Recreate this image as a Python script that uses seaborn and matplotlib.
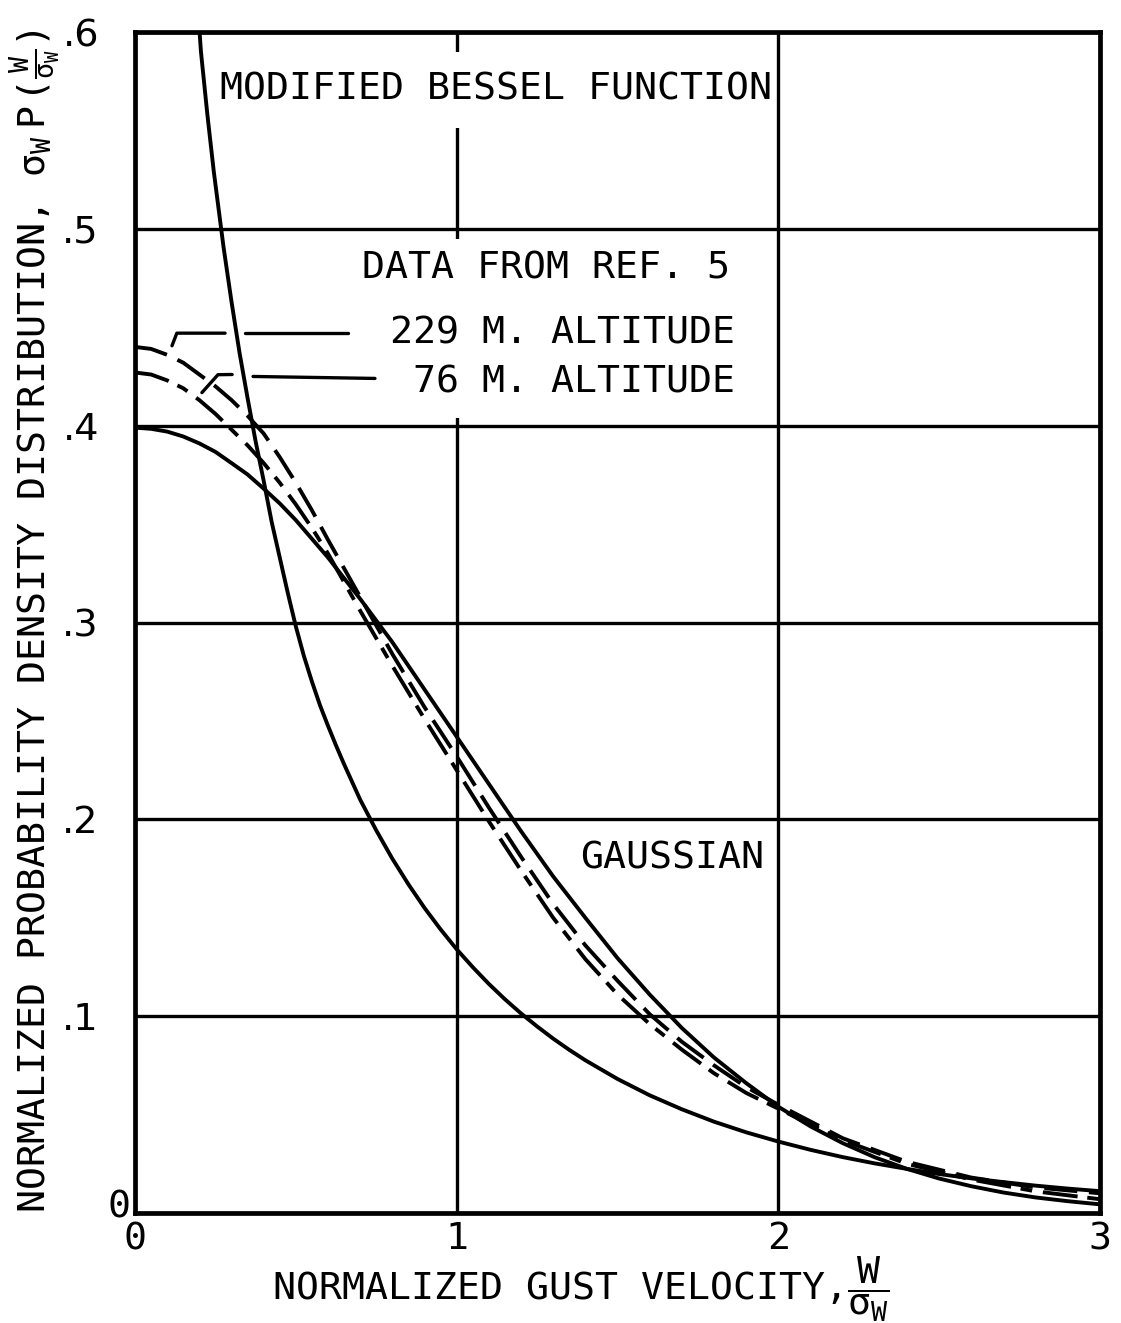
import matplotlib
matplotlib.use("Agg")
import matplotlib.pyplot as plt
import seaborn as sns
import pandas as pd
from matplotlib.patches import Rectangle

# ---------------- data ----------------
bessel_x = [0.190, 0.205, 0.225, 0.245, 0.275, 0.300, 0.325, 0.350, 0.375, 0.400,
            0.425, 0.450, 0.475, 0.500, 0.525, 0.550, 0.575, 0.600, 0.625, 0.650,
            0.675, 0.700, 0.750, 0.800, 0.850, 0.900, 0.950, 1.000, 1.050, 1.100,
            1.150, 1.200, 1.250, 1.300, 1.350, 1.400, 1.500, 1.600, 1.700, 1.800,
            1.900, 2.000, 2.100, 2.200, 2.300, 2.400, 2.500, 2.600, 2.700, 2.800,
            2.900, 3.000]
bessel_y = [0.625, 0.590, 0.558, 0.529, 0.491, 0.463, 0.437, 0.414, 0.392, 0.372,
            0.351, 0.333, 0.315, 0.298, 0.283, 0.270, 0.258, 0.2475, 0.2375, 0.228,
            0.219, 0.210, 0.1944, 0.180, 0.167, 0.155, 0.1441, 0.134, 0.1249, 0.1164,
            0.1086, 0.1014, 0.0948, 0.0886, 0.0829, 0.0776, 0.0681, 0.0598, 0.0527, 0.0464,
            0.0410, 0.0363, 0.0321, 0.0284, 0.0252, 0.0224, 0.0198, 0.0176, 0.0157, 0.0139,
            0.0124, 0.0111]

gauss_x = [0.0, 0.05, 0.1, 0.15, 0.2, 0.25, 0.3, 0.35, 0.4, 0.45, 0.5, 0.6, 0.7,
           0.8, 0.9, 1.0, 1.1, 1.2, 1.3, 1.4, 1.5, 1.6, 1.7, 1.8, 1.9, 2.0, 2.1,
           2.2, 2.3, 2.4, 2.5, 2.6, 2.7, 2.8, 2.9, 3.0]
gauss_y = [0.399, 0.3984, 0.397, 0.3945, 0.391, 0.3867, 0.381, 0.3752, 0.368,
           0.3605, 0.352, 0.333, 0.312, 0.290, 0.266, 0.242, 0.218, 0.194, 0.171,
           0.150, 0.1295, 0.111, 0.094, 0.079, 0.066, 0.054, 0.044, 0.0355, 0.0283,
           0.0224, 0.0175, 0.0136, 0.0104, 0.0079, 0.0060, 0.0044]

alt229_x = [0.0, 0.05, 0.1, 0.15, 0.2, 0.25, 0.3, 0.35, 0.4, 0.45, 0.5, 0.55, 0.6,
            0.7, 0.8, 0.9, 1.0, 1.1, 1.2, 1.3, 1.4, 1.5, 1.6, 1.7, 1.8, 1.9, 2.0,
            2.2, 2.4, 2.6, 2.8, 3.0]
alt229_y = [0.440, 0.439, 0.436, 0.432, 0.426, 0.420, 0.413, 0.405, 0.396, 0.384,
            0.371, 0.357, 0.342, 0.313, 0.284, 0.257, 0.232, 0.206, 0.181, 0.157,
            0.136, 0.118, 0.101, 0.087, 0.075, 0.064, 0.055, 0.038, 0.026, 0.018,
            0.013, 0.010]

alt76_x = [0.0, 0.05, 0.1, 0.15, 0.2, 0.25, 0.3, 0.35, 0.4, 0.45, 0.5, 0.55, 0.6,
           0.7, 0.8, 0.9, 1.0, 1.1, 1.2, 1.3, 1.4, 1.5, 1.6, 1.7, 1.8, 1.9, 2.0,
           2.2, 2.4, 2.6, 2.8, 3.0]
alt76_y = [0.427, 0.426, 0.423, 0.419, 0.413, 0.406, 0.398, 0.390, 0.381, 0.371,
           0.360, 0.348, 0.335, 0.306, 0.278, 0.251, 0.225, 0.199, 0.174, 0.150,
           0.129, 0.111, 0.096, 0.083, 0.071, 0.061, 0.053, 0.037, 0.025, 0.017,
           0.011, 0.007]

x_ticks = [0, 1, 2, 3]
x_tick_labels = ["0", "1", "2", "3"]
y_ticks = [0.0, 0.1, 0.2, 0.3, 0.4, 0.5, 0.6]
y_tick_labels = ["", ".1", ".2", ".3", ".4", ".5", ".6"]

title_text = "MODIFIED BESSEL FUNCTION"
data_text = "DATA FROM REF. 5"
label_229 = "229 M. ALTITUDE"
label_76 = "76 M. ALTITUDE"
gauss_text = "GAUSSIAN"
xlabel_text = r"NORMALIZED GUST VELOCITY,$\dfrac{\mathrm{W}}{\sigma_\mathrm{W}}$"
ylabel_text = (r"NORMALIZED PROBABILITY DENSITY DISTRIBUTION, "
               r"$\sigma_\mathrm{W}\ \mathrm{P}\,(\frac{\mathrm{W}}{\sigma_\mathrm{W}})$")

# ---------------- style ----------------
sns.set_theme(style="white")
FONT = "DejaVu Sans Mono"
plt.rcParams["font.family"] = [FONT, "DejaVu Sans"]
plt.rcParams["text.color"] = "black"
plt.rcParams["axes.labelcolor"] = "black"
plt.rcParams["xtick.color"] = "black"
plt.rcParams["ytick.color"] = "black"
plt.rcParams["mathtext.fontset"] = "custom"
plt.rcParams["mathtext.rm"] = FONT
plt.rcParams["mathtext.it"] = FONT
plt.rcParams["mathtext.bf"] = FONT + ":bold"
plt.rcParams["mathtext.sf"] = FONT
FS = 27.5

fig = plt.figure(figsize=(11.21, 13.23), dpi=100)
fig.patch.set_facecolor("white")
ax = fig.add_axes([0.12043, 0.08314, 0.86084, 0.89267])
ax.set_facecolor("white")

LW = 2.8
df_b = pd.DataFrame({"x": bessel_x, "y": bessel_y})
df_g = pd.DataFrame({"x": gauss_x, "y": gauss_y})
df_a = pd.DataFrame({"x": alt229_x, "y": alt229_y})
df_c = pd.DataFrame({"x": alt76_x, "y": alt76_y})

sns.lineplot(data=df_b, x="x", y="y", ax=ax, color="black", linewidth=LW,
             estimator=None, sort=False, zorder=4)
sns.lineplot(data=df_g, x="x", y="y", ax=ax, color="black", linewidth=LW,
             estimator=None, sort=False, zorder=4)
sns.lineplot(data=df_a, x="x", y="y", ax=ax, color="black", linewidth=LW,
             estimator=None, sort=False, zorder=4)
ax.lines[-1].set_dashes([8.5, 3.0])
sns.lineplot(data=df_c, x="x", y="y", ax=ax, color="black", linewidth=LW,
             estimator=None, sort=False, zorder=4)
ax.lines[-1].set_dashes([9.0, 2.5, 3.0, 2.8])
for ln in ax.lines:
    ln.set_solid_joinstyle("round")
    ln.set_dash_joinstyle("round")

ax.set_xlim(0, 3)
ax.set_ylim(0, 0.6)
ax.set_xticks(x_ticks)
ax.set_xticklabels(x_tick_labels, fontsize=FS, color="black")
ax.set_yticks(y_ticks)
ax.set_yticklabels(y_tick_labels, fontsize=FS, color="black",
                   family=["DejaVu Sans"])
ax.tick_params(axis="y", length=0, pad=26)
ax.tick_params(axis="x", length=0, pad=6)
ax.set_xlabel("")
ax.set_ylabel("")

ax.set_axisbelow(True)
ax.grid(True, color="black", linewidth=2.4)
for s in ax.spines.values():
    s.set_visible(True)
    s.set_color("black")
    s.set_linewidth(3.4)

# white blanks behind the annotation blocks (interrupt the x=1 grid line)
ax.add_patch(Rectangle((0.30, 0.551), 1.6, 0.039, facecolor="white",
                       edgecolor="none", zorder=1))
ax.add_patch(Rectangle((0.36, 0.404), 1.54, 0.091, facecolor="white",
                       edgecolor="none", zorder=1))

# annotation texts
ax.text(0.264, 0.571, title_text, fontsize=FS, ha="left", va="center", zorder=6)
ax.text(1.85, 0.480, data_text, fontsize=FS, ha="right", va="center", zorder=6)
ax.text(1.865, 0.4467, label_229, fontsize=FS, ha="right", va="center", zorder=6)
ax.text(1.865, 0.4218, label_76, fontsize=FS, ha="right", va="center", zorder=6)
ax.text(1.383, 0.1802, gauss_text, fontsize=FS, ha="left", va="center", zorder=6)

# leader lines
ax.plot([0.115, 0.13, 0.28], [0.4406, 0.447, 0.447], color="black", lw=2.4,
        zorder=5, solid_capstyle="round")
ax.plot([0.343, 0.662], [0.447, 0.447], color="black", lw=2.4, zorder=5,
        solid_capstyle="round")
ax.plot([0.208, 0.258, 0.302], [0.4168, 0.4259, 0.426], color="black", lw=2.4,
        zorder=5, solid_capstyle="round")
ax.plot([0.367, 0.746], [0.425, 0.424], color="black", lw=2.4, zorder=5,
        solid_capstyle="round")

# y-axis "0" label sits close to the axis
ax.text(-0.05, 0.003, "0", fontsize=FS, ha="center", va="center", clip_on=False)

# axis titles
fig.text(35 / 1121, 0.0831, ylabel_text, rotation=90, fontsize=FS,
         ha="center", va="bottom")
fig.text(272 / 1121, 0.0174, xlabel_text, fontsize=FS, ha="left", va="baseline")

fig.savefig("out.png", dpi=100, facecolor="white")
